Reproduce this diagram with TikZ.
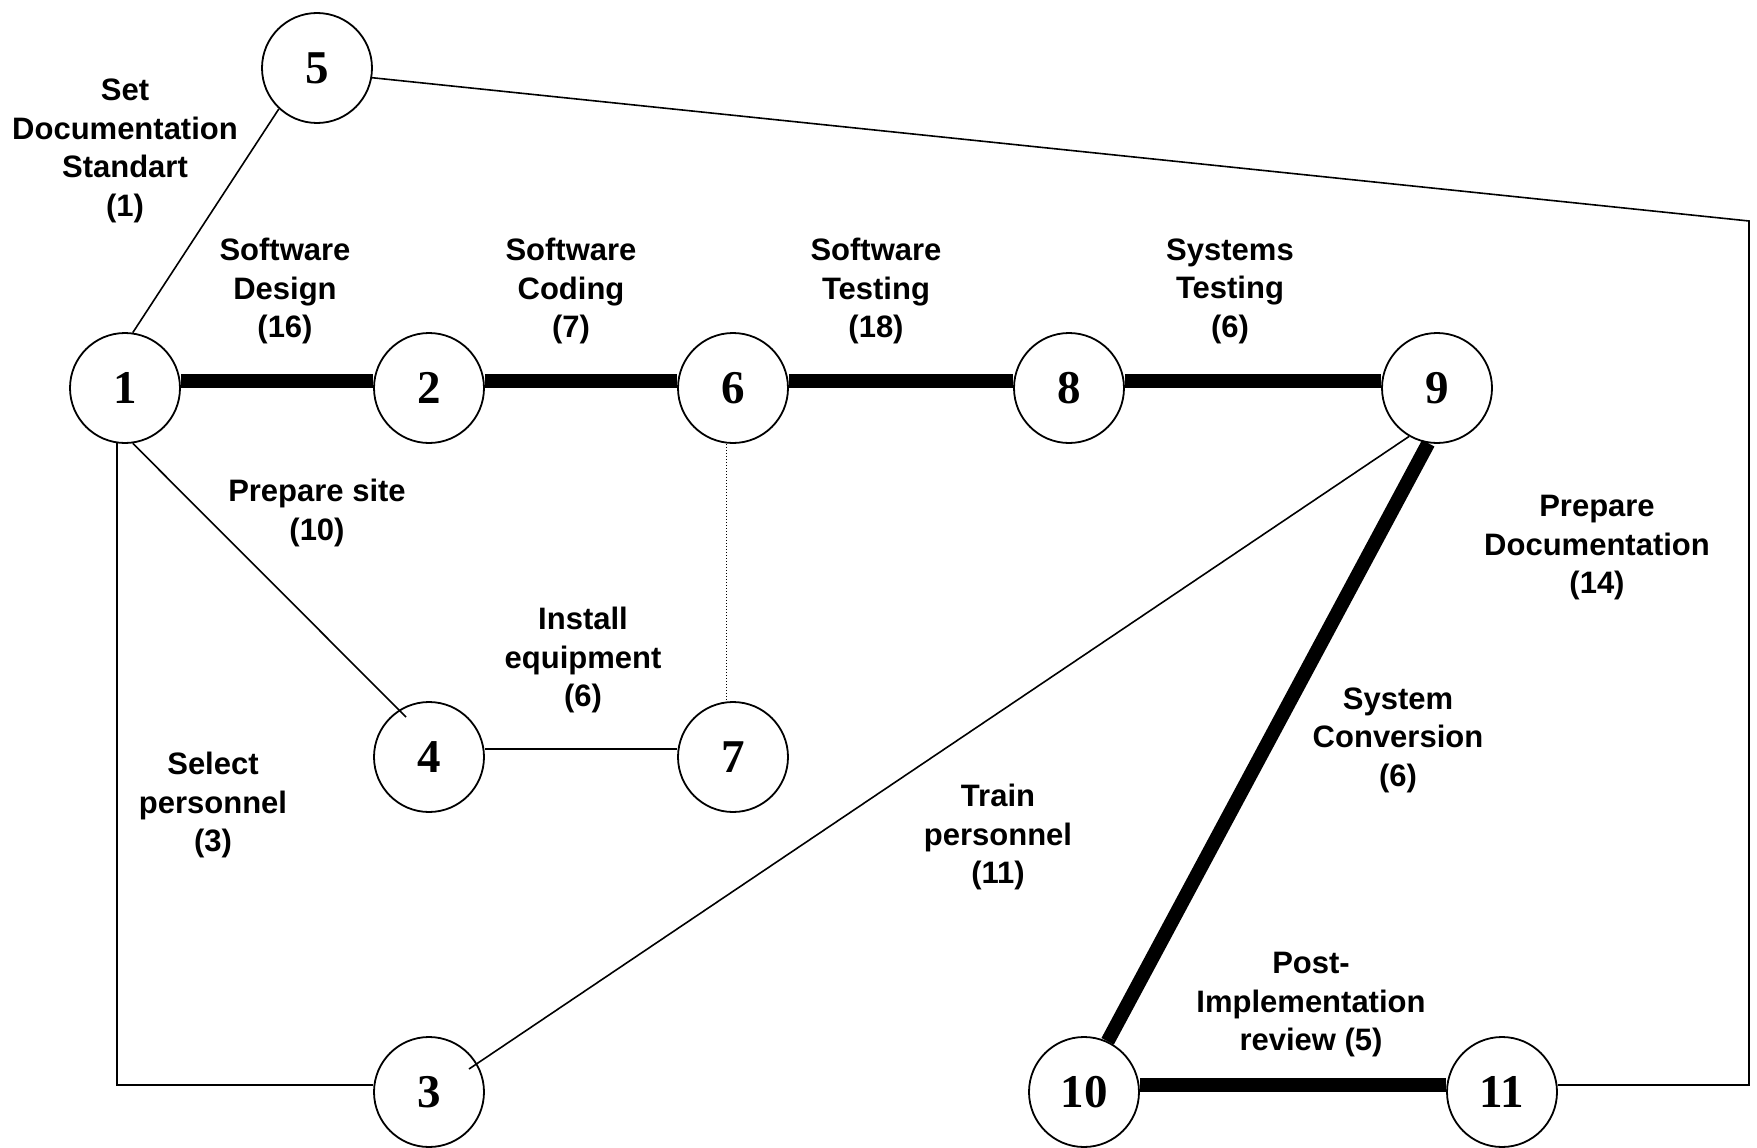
\documentclass[tikz,border=0pt]{standalone}
\usepackage{fontspec}
\setmainfont{Liberation Serif}
\newfontfamily\labfont{Liberation Sans}
\usetikzlibrary{calc}
\begin{document}
\begin{tikzpicture}[x=1pt,y=-1pt,
  ev/.style={circle,draw,line width=1.8pt,minimum size=110pt,inner sep=0pt,fill=white,
    font=\rmfamily\bfseries\fontsize{47}{47}\selectfont},
  lab/.style={align=center,inner sep=0pt,font=\labfont\bfseries\fontsize{31}{38.5}\selectfont},
  actline/.style={line width=1.6pt},
  critline/.style={line width=14pt},
  dumline/.style={line width=1pt,dotted}]
\useasboundingbox (0,0) rectangle (1757,1148);
% events
\node[ev] (n1) at (125,388) {1};
\node[ev] (n2) at (429,388) {2};
\node[ev] (n6) at (733,388) {6};
\node[ev] (n8) at (1069,388) {8};
\node[ev] (n9) at (1437,388) {9};
\node[ev] (n5) at (317,68) {5};
\node[ev] (n4) at (429,757) {4};
\node[ev] (n7) at (733,757) {7};
\node[ev] (n3) at (429,1092) {3};
\node[ev] (n10) at (1084,1092) {10};
\node[ev] (n11) at (1502,1092) {11};
\coordinate (cR) at (1749,221);
% activities
\draw[critline] ([yshift=7pt]n1.east) -- ([yshift=7pt]n2.west);
\draw[critline] ([yshift=7pt]n2.east) -- ([yshift=7pt]n6.west);
\draw[critline] ([yshift=7pt]n6.east) -- ([yshift=7pt]n8.west);
\draw[critline] ([yshift=7pt]n8.east) -- ([yshift=7pt]n9.west);
\draw[critline] (n9.261) -- (n10.65);
\draw[critline] ([yshift=7pt]n10.east) -- ([yshift=7pt]n11.west);
\draw[actline] (n1.82) -- (n5.227);
\draw[actline] (n1.278) -- ($(n4)+(-23,-40)$);
\draw[actline] (n1.262) |- ([yshift=7pt]n3.west);
\draw[actline] ([yshift=8pt]n4.east) -- ([yshift=8pt]n7.west);
\draw[dumline] ([xshift=-7pt]n6.south) -- ([xshift=-7pt]n7.north);
\draw[actline] (n9.240) -- ($(n3)+(40,-23)$);
\draw[actline] ([yshift=7pt]n11.east) -| (cR) -- (n5.350);
% labels
\node[lab] (l1) at (125,151) {Set\\Documentation\\Standart\\(1)};
\node[lab] (l2) at (285,291) {Software\\Design\\(16)};
\node[lab] (l3) at (571,291) {Software\\Coding\\(7)};
\node[lab] (l4) at (876,291) {Software\\Testing\\(18)};
\node[lab] (l5) at (1230,291) {Systems\\Testing\\(6)};
\node[lab] (l6) at (317,513) {Prepare site\\(10)};
\node[lab] (l7) at (583,660) {Install\\equipment\\(6)};
\node[lab] (l8) at (213,805) {Select\\personnel\\(3)};
\node[lab] (l9) at (998,837) {Train\\personnel\\(11)};
\node[lab] (l10) at (1398,740) {System\\Conversion\\(6)};
\node[lab] (l11) at (1597,548) {Prepare\\Documentation\\(14)};
\node[lab] (l12) at (1311,1005) {Post-\\Implementation\\review (5)};
\end{tikzpicture}
\end{document}
